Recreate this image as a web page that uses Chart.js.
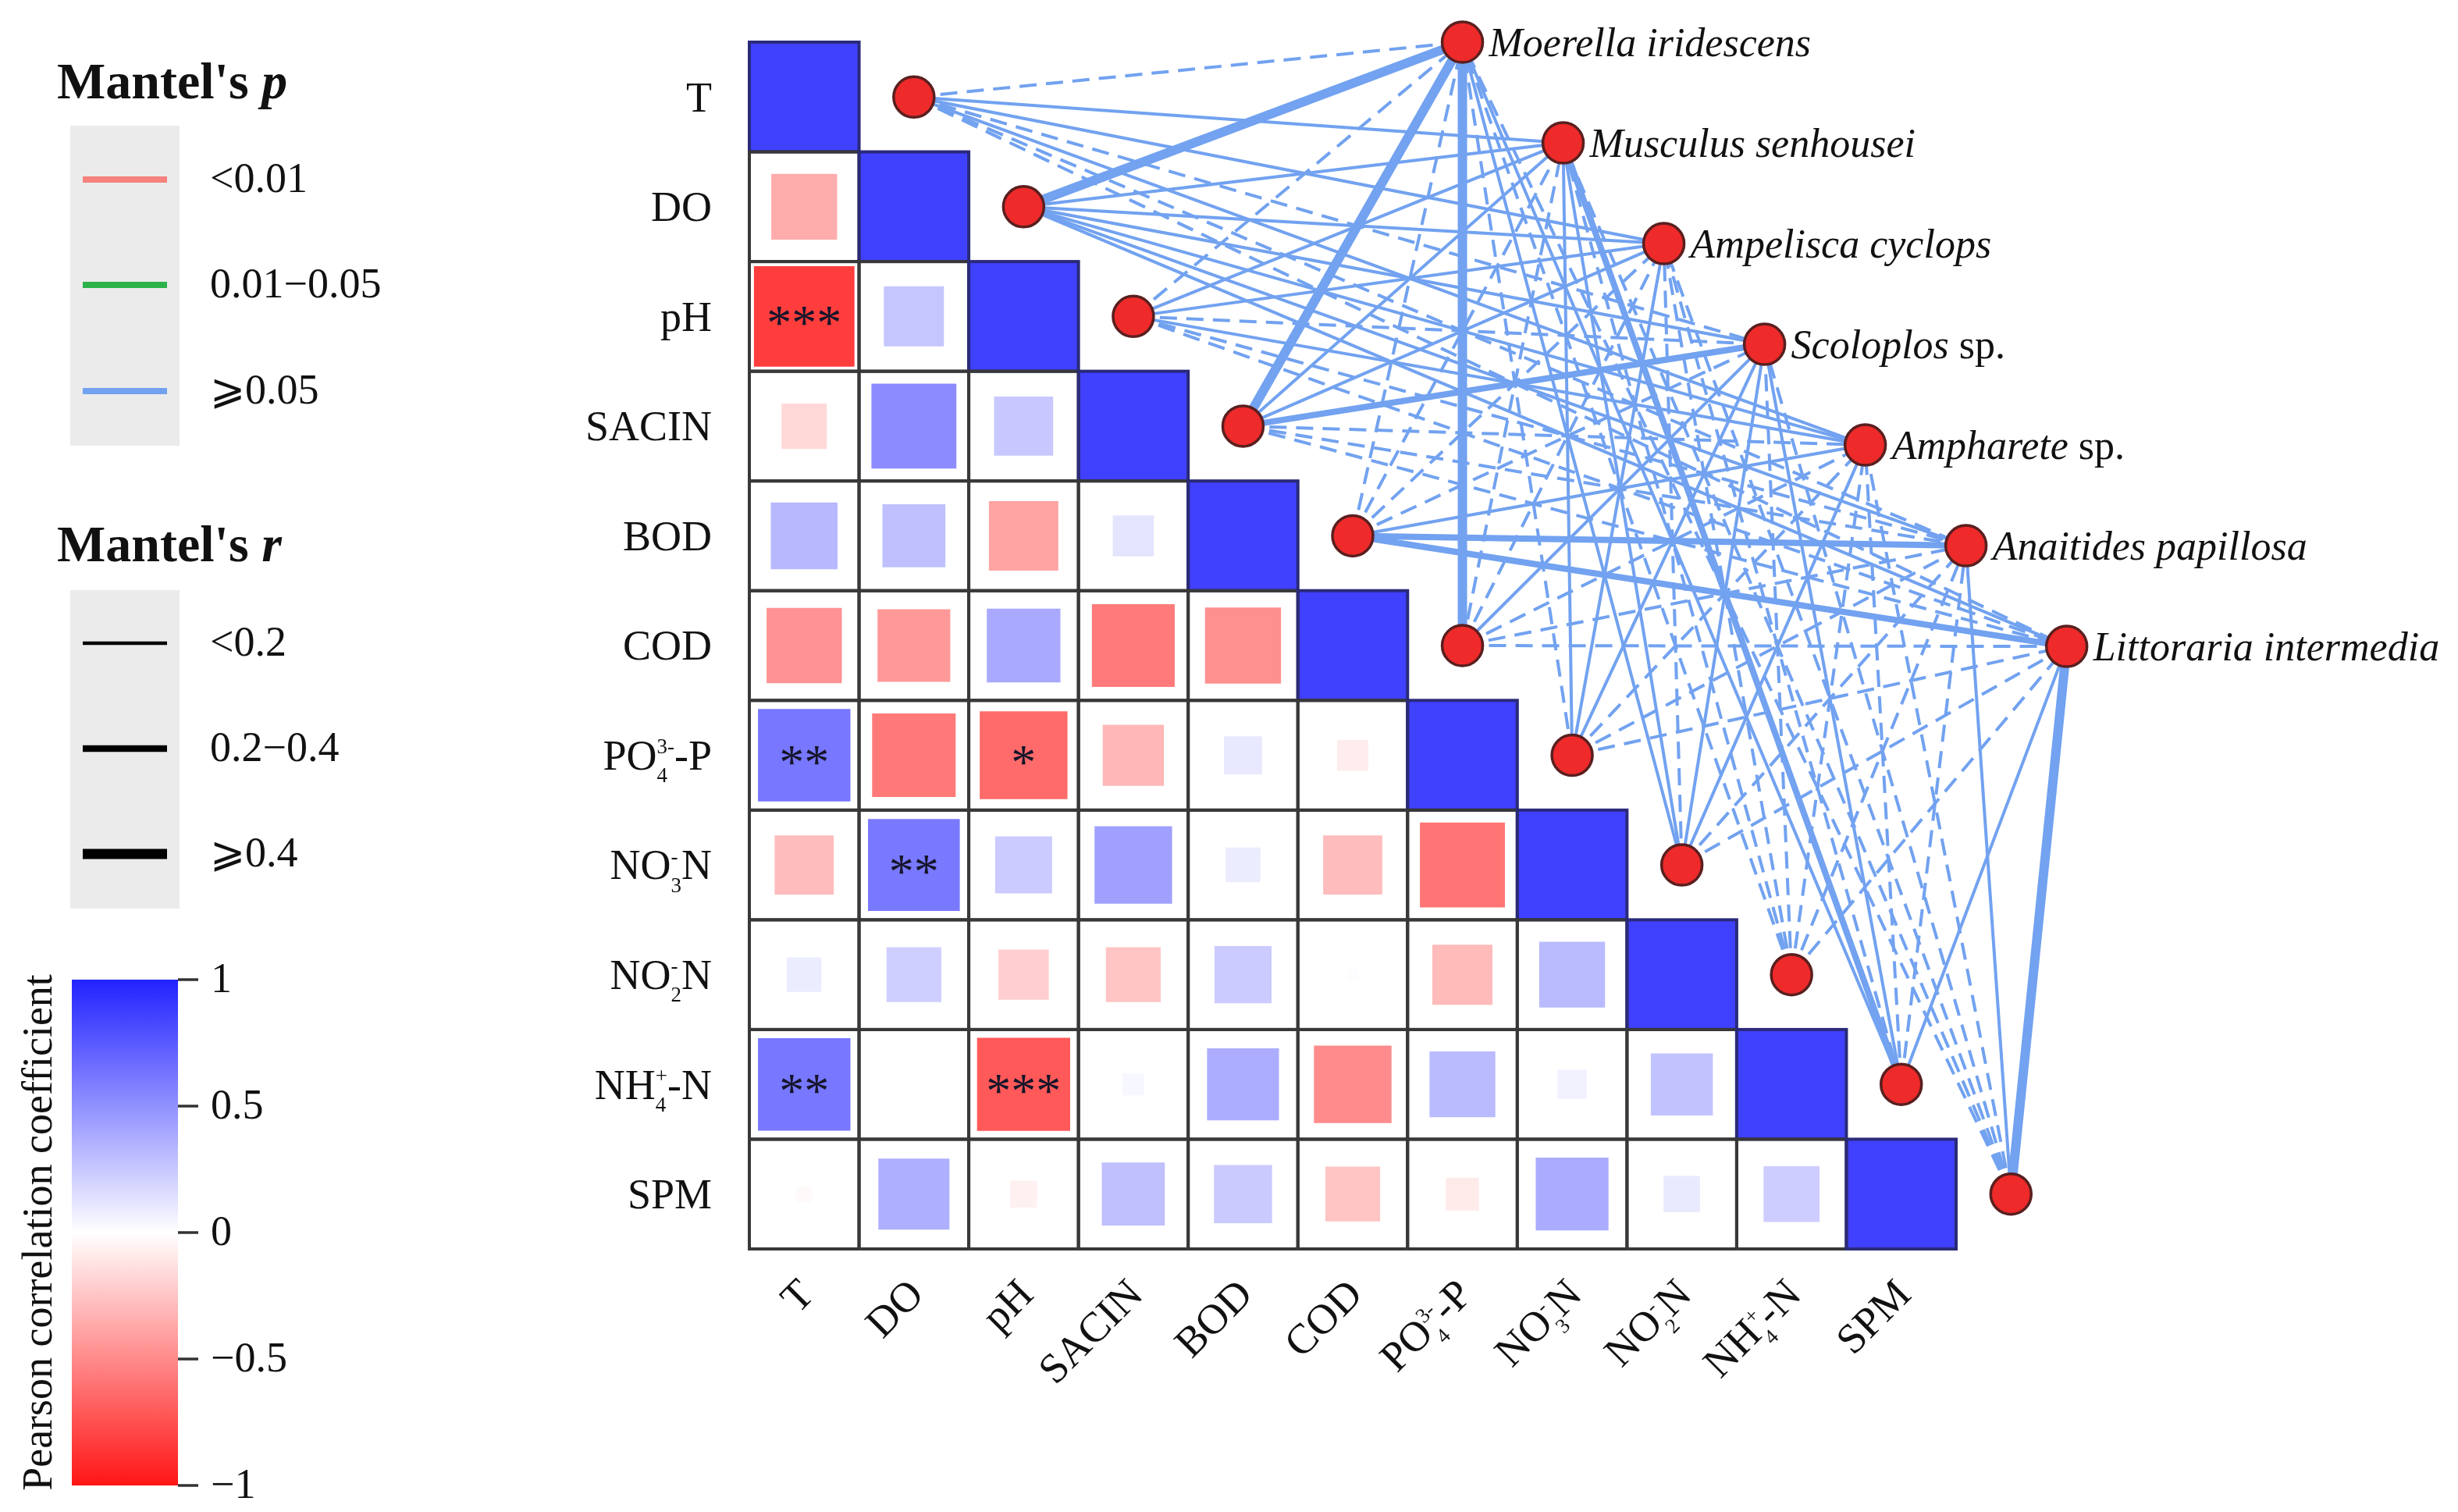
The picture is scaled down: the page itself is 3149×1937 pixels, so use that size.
<!DOCTYPE html>
<html><head><meta charset="utf-8">
<script src="https://cdn.jsdelivr.net/npm/chart.js@4.4.0/dist/chart.umd.min.js"></script>
<style>html,body{margin:0;padding:0;background:#fff;overflow:hidden}canvas{display:block}</style>
</head><body>
<canvas id="c" width="3149" height="1937" style="width:3149px;height:1937px"></canvas>
<script>
// ---------------- DATA ----------------
const envVars = ['T','DO','pH','SACIN','BOD','COD','PO4','NO3','NO2','NH4','SPM'];
const envLabels = ['T','DO','pH','SACIN','BOD','COD','PO{_4}{^3-}-P','NO{_3}{^-}N','NO{_2}{^-}N','NH{_4}{^+}-N','SPM'];
const species = ['Moerella iridescens','Musculus senhousei','Ampelisca cyclops','Scoloplos sp.','Ampharete sp.','Anaitides papillosa','Littoraria intermedia'];
// Pearson r, lower triangle: row i holds columns 0..i-1
const pearsonR = [
  [],
  [-0.36],
  [-0.84, 0.30],
  [-0.17, 0.60, 0.29],
  [0.37, 0.33, -0.40, 0.14],
  [-0.47, -0.44, 0.45, -0.57, -0.48],
  [0.71, -0.58, -0.64, -0.31, 0.12, -0.08],
  [-0.29, 0.70, 0.27, 0.50, 0.10, -0.29, -0.60],
  [0.10, 0.25, -0.21, -0.25, 0.27, 0.01, -0.30, 0.36],
  [0.71, 0.00, -0.72, 0.04, 0.43, -0.50, 0.36, 0.07, 0.32],
  [-0.02, 0.42, -0.06, 0.33, 0.28, -0.25, -0.09, 0.44, 0.11, 0.26]
];
// significance marks [row, col, mark]
const pearsonSig = [[2,0,'***'],[6,0,'**'],[6,2,'*'],[7,1,'**'],[9,0,'**'],[9,2,'***']];
// Mantel r (species x env); sign shows line type (negative = dashed)
const mantelR = [
  [-0.12, 0.42, -0.12, 0.45, -0.12, 0.45, -0.12, 0.12, -0.12, 0.12, -0.12],
  [0.12, 0.12, 0.12, 0.12, -0.12, -0.12, 0.12, 0.12, -0.12, 0.32, -0.12],
  [0.12, 0.12, 0.12, 0.12, -0.12, -0.12, 0.12, -0.12, -0.12, -0.12, -0.12],
  [-0.12, 0.12, -0.12, 0.32, -0.12, 0.12, 0.12, 0.12, -0.12, 0.12, -0.12],
  [0.12, 0.12, 0.12, -0.12, 0.12, -0.12, -0.12, 0.12, -0.12, -0.12, -0.12],
  [-0.12, 0.12, -0.12, -0.12, 0.32, -0.12, -0.12, -0.12, -0.12, -0.12, 0.12],
  [-0.12, 0.12, -0.12, -0.12, 0.32, -0.12, -0.12, -0.12, -0.12, 0.12, 0.45]
];
// Mantel p class per species (0: <0.01, 1: 0.01-0.05, 2: >=0.05)
const mantelPClass = [2, 2, 2, 2, 2, 2, 2];
const pLegend = ['<0.01', '0.01\u22120.05', '\u2a7e0.05'];
const rLegend = ['<0.2', '0.2\u22120.4', '\u2a7e0.4'];
const cbTicks = [1, 0.5, 0, -0.5, -1];
const cbTickLabels = ['1', '0.5', '0', '\u22120.5', '\u22121'];

// ---------------- STYLE / LAYOUT ----------------
const FONT = "'Liberation Serif','Times New Roman',serif";
const pColors = ['#F5827D', '#2DB24A', '#72A2F0'];
const rWidths = [4, 8, 12];
const spStart = {x: 6.0, y: -0.5}, spStep = 0.918;
const spX = k => spStart.x + k * spStep, spY = k => spStart.y + k * spStep;
const CELL = (2506 - 960) / 11;
const X_MIN = -0.5, X_MAX = 12.2, Y_MIN = -0.8, Y_MAX = 10.5;

function corrColor(v) {
  if (v >= 0) {
    const t = Math.min(1, v);
    const c = Math.round(255 - t * (255 - 64));
    return `rgb(${c},${c},255)`;
  } else {
    const t = Math.min(1, -v);
    const c = Math.round(255 - t * (255 - 24));
    return `rgb(255,${c},${c})`;
  }
}

const cells = [];
for (let i = 0; i < envVars.length; i++) {
  for (let j = 0; j < i; j++) cells.push({x: j, y: i, v: pearsonR[i][j]});
  cells.push({x: i, y: i, v: 1});
}
const cellPx = ch => Math.abs(ch.scales.x.getPixelForValue(1) - ch.scales.x.getPixelForValue(0));
const sqRadius = ctx => { const raw = ctx.raw; if (!raw) return 0; return cellPx(ctx.chart) * Math.sqrt(Math.abs(raw.v)) / Math.SQRT2; };

const datasets = [];
datasets.push({
  label: 'pearson', data: cells, pointStyle: 'rect', rotation: 0,
  pointRadius: sqRadius, pointHoverRadius: sqRadius,
  backgroundColor: ctx => ctx.raw ? corrColor(ctx.raw.v) : '#fff',
  borderWidth: 0, order: 3
});
species.forEach((sp, k) => {
  envVars.forEach((ev, i) => {
    const r = mantelR[k][i], a = Math.abs(r);
    const cls = a < 0.2 ? 0 : (a < 0.4 ? 1 : 2);
    datasets.push({
      label: sp + '-' + ev, data: [{x: i + 1, y: i}, {x: spX(k), y: spY(k)}],
      showLine: true, pointRadius: 0, borderColor: pColors[mantelPClass[k]],
      borderWidth: rWidths[cls], borderDash: r < 0 ? [22, 12] : [], borderCapStyle: 'butt',
      clip: false, order: 2
    });
  });
});
datasets.push({
  label: 'nodes',
  data: envVars.map((e, i) => ({x: i + 1, y: i})).concat(species.map((s, k) => ({x: spX(k), y: spY(k)}))),
  pointStyle: 'circle', pointRadius: 26, pointHoverRadius: 26,
  backgroundColor: '#EE2A2A', borderColor: '#5A1F1F', borderWidth: 3.5, clip: false, order: 1
});

function parseRich(s) {
  const parts = []; const re = /\{([_^])([^}]*)\}/g; let last = 0, m;
  while ((m = re.exec(s))) {
    if (m.index > last) parts.push({t: s.slice(last, m.index), k: 'n'});
    parts.push({t: m[2], k: m[1] === '_' ? 'sub' : 'sup'});
    last = re.lastIndex;
  }
  if (last < s.length) parts.push({t: s.slice(last), k: 'n'});
  const g = [];
  parts.forEach(p => {
    if (p.k === 'n') g.push({n: p.t});
    else { let L = g[g.length - 1]; if (!L || L.n !== undefined) { L = {}; g.push(L); } L[p.k] = p.t; }
  });
  return g;
}
function drawRich(ctx, s, x, y, F, align) {
  const g = parseRich(s); const fN = `${F}px ${FONT}`, fS = `${Math.round(F * 0.5)}px ${FONT}`;
  const widths = g.map(p => {
    if (p.n !== undefined) { ctx.font = fN; return ctx.measureText(p.n).width; }
    ctx.font = fS; return Math.max(p.sub ? ctx.measureText(p.sub).width : 0, p.sup ? ctx.measureText(p.sup).width : 0);
  });
  const tot = widths.reduce((a, b) => a + b, 0);
  let cx = align === 'right' ? x - tot : (align === 'center' ? x - tot / 2 : x);
  ctx.textAlign = 'left'; ctx.textBaseline = 'alphabetic';
  g.forEach((p, idx) => {
    if (p.n !== undefined) { ctx.font = fN; ctx.fillText(p.n, cx, y); }
    else {
      ctx.font = fS;
      if (p.sub) ctx.fillText(p.sub, cx, y + F * 0.3);
      if (p.sup) ctx.fillText(p.sup, cx, y - F * 0.38);
    }
    cx += widths[idx];
  });
}

const decoPlugin = {
  id: 'deco',
  afterDatasetDraw(chart, args) {
    if (args.index !== 0) return;
    const ctx = chart.ctx, xs = chart.scales.x, ys = chart.scales.y, c = cellPx(chart);
    ctx.save();
    ctx.lineWidth = 4;
    for (let i = 0; i < envVars.length; i++) {
      for (let j = 0; j <= i; j++) {
        const px = xs.getPixelForValue(j), py = ys.getPixelForValue(i);
        ctx.strokeStyle = i === j ? '#2a2a7a' : '#383838';
        ctx.strokeRect(px - c / 2, py - c / 2, c, c);
      }
    }
    ctx.fillStyle = '#15152a'; ctx.font = `64px ${FONT}`; ctx.textAlign = 'center'; ctx.textBaseline = 'alphabetic';
    pearsonSig.forEach(([i, j, s]) => {
      const px = xs.getPixelForValue(j), py = ys.getPixelForValue(i);
      const m = ctx.measureText(s);
      ctx.fillText(s, px, py + (m.actualBoundingBoxAscent - m.actualBoundingBoxDescent) / 2);
    });
    ctx.restore();
  },
  afterDraw(chart) {
    const ctx = chart.ctx, xs = chart.scales.x, ys = chart.scales.y;
    const left = xs.getPixelForValue(-0.5), bottom = ys.getPixelForValue(10.5);
    const F = 54;
    ctx.save();
    ctx.fillStyle = '#111';
    envLabels.forEach((l, i) => drawRich(ctx, l, left - 48, ys.getPixelForValue(i) + F * 0.34, F, 'right'));
    envLabels.forEach((l, j) => {
      ctx.save();
      ctx.translate(xs.getPixelForValue(j) + 2, bottom + 48);
      ctx.rotate(-Math.PI / 4);
      drawRich(ctx, l, 0, F * 0.34, F, 'right');
      ctx.restore();
    });
    species.forEach((s, k) => {
      const px = xs.getPixelForValue(spX(k)) + 34, py = ys.getPixelForValue(spY(k)) + 52 * 0.34;
      let it = s, nm = '';
      if (s.endsWith(' sp.')) { it = s.slice(0, -4); nm = ' sp.'; }
      ctx.textAlign = 'left'; ctx.textBaseline = 'alphabetic'; ctx.fillStyle = '#111';
      ctx.font = `italic 52px ${FONT}`; ctx.fillText(it, px, py);
      const w = ctx.measureText(it).width;
      ctx.font = `52px ${FONT}`; ctx.fillText(nm, px + w, py);
    });
    function title(txt, ital, y) {
      ctx.textAlign = 'left'; ctx.textBaseline = 'alphabetic'; ctx.fillStyle = '#111';
      ctx.font = `bold 66px ${FONT}`; ctx.fillText(txt, 73, y);
      const w = ctx.measureText(txt).width;
      ctx.font = `italic bold 66px ${FONT}`; ctx.fillText(ital, 73 + w, y);
    }
    title("Mantel's ", 'p', 126);
    ctx.fillStyle = '#EBEBEB'; ctx.fillRect(90, 161, 140, 410);
    [230, 365, 501].forEach((y, i) => {
      ctx.strokeStyle = pColors[i]; ctx.lineWidth = 8; ctx.beginPath(); ctx.moveTo(106, y); ctx.lineTo(214, y); ctx.stroke();
      ctx.fillStyle = '#111'; ctx.font = `54px ${FONT}`; ctx.textBaseline = 'middle'; ctx.textAlign = 'left'; ctx.fillText(pLegend[i], 269, y + 2);
    });
    title("Mantel's ", 'r', 719);
    ctx.fillStyle = '#EBEBEB'; ctx.fillRect(90, 756, 140, 408);
    [824, 959, 1094].forEach((y, i) => {
      ctx.strokeStyle = '#000'; ctx.lineWidth = [4.5, 8.5, 13][i]; ctx.beginPath(); ctx.moveTo(106, y); ctx.lineTo(214, y); ctx.stroke();
      ctx.fillStyle = '#111'; ctx.font = `54px ${FONT}`; ctx.textBaseline = 'middle'; ctx.textAlign = 'left'; ctx.fillText(rLegend[i], 269, y + 2);
    });
    const cbx = 92, cbw = 136, cbTop = 1255, cbBot = 1903;
    const gr = ctx.createLinearGradient(0, cbTop, 0, cbBot);
    gr.addColorStop(0, '#2222FF'); gr.addColorStop(0.5, '#FFFFFF'); gr.addColorStop(1, '#FF1515');
    ctx.fillStyle = gr; ctx.fillRect(cbx, cbTop, cbw, cbBot - cbTop);
    cbTicks.forEach((v, i) => {
      const y = cbTop + (1 - v) / 2 * (cbBot - cbTop);
      ctx.strokeStyle = '#333'; ctx.lineWidth = 3.5; ctx.beginPath(); ctx.moveTo(cbx + cbw, y); ctx.lineTo(cbx + cbw + 26, y); ctx.stroke();
      ctx.fillStyle = '#111'; ctx.font = `54px ${FONT}`; ctx.textAlign = 'left'; ctx.textBaseline = 'middle';
      ctx.fillText(cbTickLabels[i], 270, y + 2);
    });
    ctx.save(); ctx.translate(66, (cbTop + cbBot) / 2); ctx.rotate(-Math.PI / 2);
    ctx.textAlign = 'center'; ctx.textBaseline = 'alphabetic'; ctx.font = `54px ${FONT}`; ctx.fillStyle = '#111';
    ctx.fillText('Pearson correlation coefficient', 0, 0); ctx.restore();
    ctx.restore();
  }
};

new Chart(document.getElementById('c'), {
  type: 'scatter',
  data: {datasets},
  options: {
    responsive: false, animation: false, devicePixelRatio: 1, events: [],
    layout: {autoPadding: false, padding: {
      left: 960,
      top: 54 - (-0.5 - Y_MIN) * CELL,
      right: 3149 - (2506 + (X_MAX - 10.5) * CELL),
      bottom: 1937 - 1600
    }},
    scales: {
      x: {type: 'linear', min: X_MIN, max: X_MAX, display: false},
      y: {type: 'linear', min: Y_MIN, max: Y_MAX, reverse: true, display: false}
    },
    plugins: {legend: {display: false}, tooltip: {enabled: false}}
  },
  plugins: [decoPlugin]
});
</script>
</body></html>
